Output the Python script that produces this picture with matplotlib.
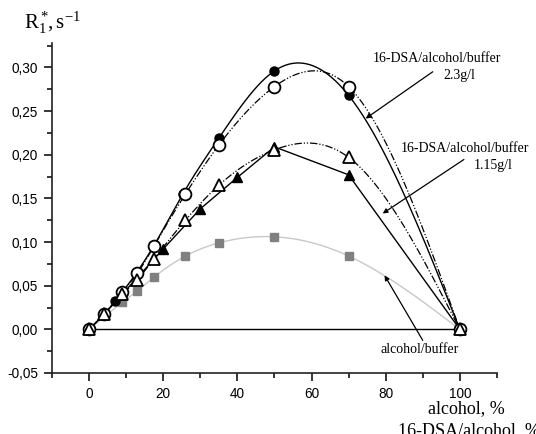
import numpy as np
import matplotlib
matplotlib.use("Agg")
import matplotlib.pyplot as plt
from matplotlib.ticker import MultipleLocator, FuncFormatter

# 16-DSA/alcohol/buffer 2.3 g/l (filled circles, solid spline)
x_c_fill = [0, 4, 7, 17.5, 25.3, 35, 50, 70, 100]
y_c_fill = [0, 0.017, 0.032, 0.096, 0.155, 0.219, 0.296, 0.268, 0]
# 16-DSA/alcohol 2.3 g/l (open circles, dash-dot-dot spline)
x_c_open = [0, 4, 9, 13, 17.6, 26, 35, 50, 70, 100]
y_c_open = [0, 0.017, 0.043, 0.064, 0.096, 0.155, 0.211, 0.278, 0.278, 0]
# 16-DSA/alcohol/buffer 1.15 g/l (filled triangles, straight lines)
x_t_fill = [0, 4, 20, 30, 40, 50, 70, 100]
y_t_fill = [0, 0.017, 0.092, 0.138, 0.174, 0.209, 0.177, 0]
# 16-DSA/alcohol 1.15 g/l (open triangles, dash-dot-dot spline)
x_t_open = [0, 4, 9, 13, 17.6, 26, 35, 50, 70, 100]
y_t_open = [0, 0.017, 0.040, 0.057, 0.081, 0.125, 0.165, 0.2056, 0.197, 0]
# alcohol/buffer (grey squares)
x_sq = [0, 9, 13, 17.6, 26, 35, 50, 70, 100]
y_sq = [0, 0.031, 0.044, 0.060, 0.084, 0.099, 0.106, 0.084, 0]

yticks = [-0.05, 0.0, 0.05, 0.10, 0.15, 0.20, 0.25, 0.30]
xticks = [0, 20, 40, 60, 80, 100]


def spline(x, y, n=300):
    # natural cubic spline, like Origin's "Spline" connection
    x = np.asarray(x, float)
    y = np.asarray(y, float)
    k = len(x)
    h = np.diff(x)
    A = np.zeros((k, k))
    b = np.zeros(k)
    A[0, 0] = 1
    A[-1, -1] = 1
    for i in range(1, k - 1):
        A[i, i - 1] = h[i - 1]
        A[i, i] = 2 * (h[i - 1] + h[i])
        A[i, i + 1] = h[i]
        b[i] = 6 * ((y[i + 1] - y[i]) / h[i] - (y[i] - y[i - 1]) / h[i - 1])
    M = np.linalg.solve(A, b)
    xs = np.linspace(x[0], x[-1], n)
    idx = np.clip(np.searchsorted(x, xs) - 1, 0, k - 2)
    x0, x1 = x[idx], x[idx + 1]
    hh = x1 - x0
    t0 = x1 - xs
    t1 = xs - x0
    ys = (M[idx] * t0 ** 3 / (6 * hh) + M[idx + 1] * t1 ** 3 / (6 * hh)
          + (y[idx] / hh - M[idx] * hh / 6) * t0
          + (y[idx + 1] / hh - M[idx + 1] * hh / 6) * t1)
    return xs, ys


plt.rcParams["mathtext.fontset"] = "custom"
plt.rcParams["mathtext.rm"] = "Liberation Serif"
plt.rcParams["mathtext.it"] = "Liberation Serif:italic"

fig = plt.figure(figsize=(5.36, 4.34), dpi=100)
ax = fig.add_axes([0.097, 0.1406, 0.83, 0.7604])

dashdotdot = (0, (6, 1.5, 1, 1.5, 1, 1.5))

ax.hlines(0, x_c_fill[0], x_c_fill[-1], color="black", lw=1.0, zorder=1)

xs, ys = spline(x_sq, y_sq)
ax.plot(xs, ys, color="#c8c8c8", lw=1.0, zorder=2)
ax.plot(x_sq, y_sq, "s", color="#808080", ms=6, mec="#808080", zorder=3, ls="none")

xs, ys = spline(x_c_fill, y_c_fill)
ax.plot(xs, ys, color="black", lw=1.0, zorder=2)
ax.plot(x_c_fill, y_c_fill, "o", color="black", ms=6.5, ls="none", zorder=3)

xs, ys = spline(x_c_open, y_c_open)
ax.plot(xs, ys, color="black", lw=0.9, ls=dashdotdot, zorder=2)
ax.plot(x_c_open, y_c_open, "o", mfc="white", mec="black", mew=1.3, ms=8.5, ls="none", zorder=4)

ax.plot(x_t_fill, y_t_fill, color="black", lw=1.0, zorder=2)
ax.plot(x_t_fill, y_t_fill, "^", color="black", ms=7.5, ls="none", zorder=3)

xs, ys = spline(x_t_open, y_t_open)
ax.plot(xs, ys, color="black", lw=0.9, ls=dashdotdot, zorder=2)
ax.plot(x_t_open, y_t_open, "^", mfc="white", mec="black", mew=1.3, ms=9, ls="none", zorder=4)

ax.set_xlim(-10, 110)
ax.set_ylim(-0.05, 0.328)
ax.set_xticks(xticks)
ax.set_yticks(yticks)
ax.xaxis.set_minor_locator(MultipleLocator(10))
ax.yaxis.set_minor_locator(MultipleLocator(0.025))
ax.yaxis.set_major_formatter(FuncFormatter(lambda v, p: f"{v:.2f}".replace(".", ",")))
ax.tick_params(which="major", direction="out", length=6, width=1.1, labelsize=9.8, pad=4)
ax.tick_params(which="minor", direction="out", length=3.5, width=1.1)
for lab in ax.get_xticklabels() + ax.get_yticklabels():
    lab.set_fontfamily("Liberation Sans")
ax.spines["top"].set_visible(False)
ax.spines["right"].set_visible(False)
ax.spines["left"].set_linewidth(1.2)
ax.spines["bottom"].set_linewidth(1.2)
ax.spines["left"].set_color("#222222")
ax.spines["bottom"].set_color("#222222")

serif = "Liberation Serif"
fig.text(0.045, 0.918, r"$\mathrm{R_1^*\!,s^{-1}}$", fontsize=15, ha="left", va="bottom")
fig.text(0.87, 0.058, "alcohol, %", fontsize=13, family=serif, ha="center", va="center")
fig.text(0.743, 0.008, "16-DSA/alcohol, %", fontsize=13, family=serif, ha="left", va="center")

arrow = dict(arrowstyle="-|>", color="black", lw=0.9, mutation_scale=7, shrinkA=0, shrinkB=0)
ax.annotate("", xy=(74.6, 0.2414), xytext=(92.7, 0.295), arrowprops=arrow)
ax.text(93.8, 0.310, "16-DSA/alcohol/buffer", fontsize=10, family=serif, ha="center", va="center")
ax.text(100.0, 0.2906, "2.3g/l", fontsize=10, family=serif, ha="center", va="center")

ax.annotate("", xy=(79.2, 0.1327), xytext=(101.1, 0.1945), arrowprops=arrow)
ax.text(101.4, 0.207, "16-DSA/alcohol/buffer", fontsize=10, family=serif, ha="center", va="center")
ax.text(108.9, 0.1876, "1.15g/l", fontsize=10, family=serif, ha="center", va="center")

ax.annotate("", xy=(79.7, 0.0618), xytext=(90.0, -0.0126), arrowprops=arrow)
ax.text(89.2, -0.0229, "alcohol/buffer", fontsize=10, family=serif, ha="center", va="center")

fig.savefig("out.png", dpi=100)
